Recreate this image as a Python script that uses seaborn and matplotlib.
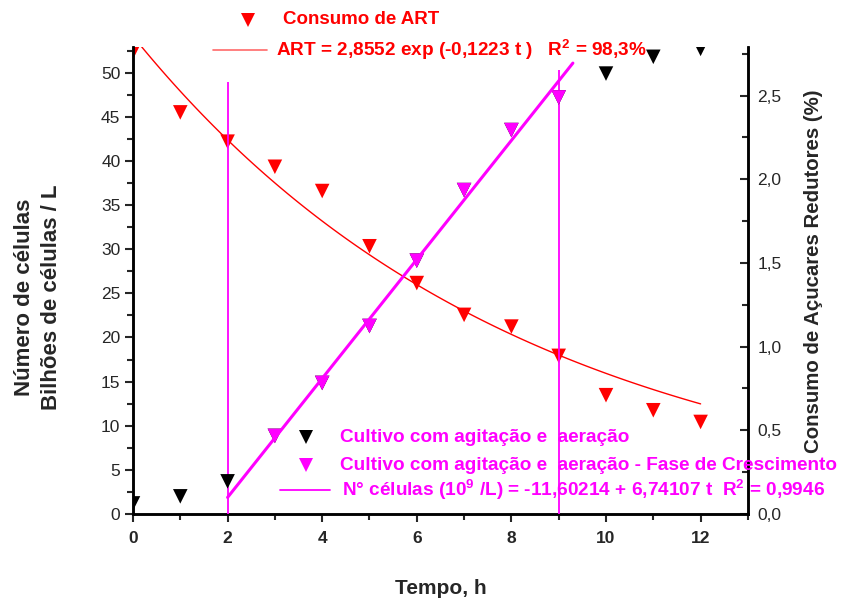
import numpy as np
import pandas as pd
import matplotlib
matplotlib.use("Agg")
import matplotlib.pyplot as plt
from matplotlib.lines import Line2D
from matplotlib.ticker import MultipleLocator, FuncFormatter
import seaborn as sns

# --- data -------------------------------------------------------------
tempo = [0, 1, 2, 3, 4, 5, 6, 7, 8, 9, 10, 11, 12]
celulas = [1.2, 2.0, 3.7, 8.85, 14.85, 21.3, 28.7, 36.7, 43.5, 47.2, 49.9, 51.8, 52.7]
tempo_cresc = [3, 4, 5, 6, 7, 8, 9]
celulas_cresc = [8.85, 14.85, 21.3, 28.7, 36.7, 43.5, 47.2]
art = [2.76, 2.40, 2.225, 2.075, 1.93, 1.60, 1.38, 1.19, 1.12, 0.945, 0.71, 0.62, 0.55]

# fitted models
art_a, art_k = 2.8552, -0.1223
lin_a, lin_b = -11.60214, 6.74107
fase_limites = [2, 9]
fase_topos = [48.9, 50.3]

sns.set_style("ticks")
plt.rcParams["font.family"] = ["Liberation Sans", "DejaVu Sans"]
plt.rcParams["mathtext.fontset"] = "custom"
plt.rcParams["mathtext.rm"] = "Liberation Sans:bold"
plt.rcParams["mathtext.bf"] = "Liberation Sans:bold"
plt.rcParams["mathtext.it"] = "Liberation Sans:bold"

RED = "#ff0000"
MAG = "#ff00ff"

fig = plt.figure(figsize=(8.47, 6.04), dpi=100)
ax = fig.add_axes([0.157, 0.149, 0.726, 0.773])
ax2 = ax.twinx()

# fitted curves
t_art = np.linspace(0, 12, 100)
fit_art = pd.DataFrame({"t": t_art, "y": art_a * np.exp(art_k * t_art)})
t_lin = np.linspace(2.0, 9.3, 20)
fit_lin = pd.DataFrame({"t": t_lin, "y": lin_a + lin_b * t_lin})

sns.lineplot(data=fit_art, x="t", y="y", ax=ax2, color=RED, lw=1.0)
sns.scatterplot(x=tempo, y=art, ax=ax2, marker="v", color=RED, s=110,
                edgecolor="none", linewidth=0, legend=False)

ax.vlines(fase_limites, 0, fase_topos, colors=MAG, lw=1.3, zorder=3)
sns.scatterplot(x=tempo, y=celulas, ax=ax, marker="v", color="black", s=110,
                edgecolor="none", linewidth=0, legend=False, zorder=4)
sns.scatterplot(x=tempo_cresc, y=celulas_cresc, ax=ax, marker="v", color=MAG,
                s=110, edgecolor="none", linewidth=0, legend=False, zorder=5)
sns.lineplot(data=fit_lin, x="t", y="y", ax=ax, color=MAG, lw=2.2, zorder=6)

ax.set_zorder(ax2.get_zorder() + 1)
ax.patch.set_visible(False)

# axes limits and ticks
ax.set_xlim(0, 13)
ax.set_ylim(0, 52.9)
ax2.set_ylim(0, 52.9 / 18.96)
ax.xaxis.set_major_locator(MultipleLocator(2))
ax.xaxis.set_minor_locator(MultipleLocator(1))
ax.yaxis.set_major_locator(MultipleLocator(5))
ax.yaxis.set_minor_locator(MultipleLocator(2.5))
ax2.yaxis.set_major_locator(MultipleLocator(0.5))
ax2.yaxis.set_minor_locator(MultipleLocator(0.25))
ax2.yaxis.set_major_formatter(FuncFormatter(lambda v, p: f"{v:.1f}".replace(".", ",")))

for a in (ax, ax2):
    for s in a.spines.values():
        s.set_linewidth(1.8)
        s.set_color("black")
    a.spines["top"].set_visible(False)

ax.tick_params(axis="x", which="major", direction="out", length=6, width=1.5,
               labelsize=12.5, pad=6)
ax.tick_params(axis="x", which="minor", direction="out", length=4, width=1.5)
ax.tick_params(axis="y", which="major", direction="out", length=6, width=1.5,
               labelsize=12.5, pad=3)
ax.tick_params(axis="y", which="minor", direction="out", length=4, width=1.5)
ax2.tick_params(axis="y", which="major", direction="in", length=6, width=1.5,
                labelsize=12.5, pad=7)
ax2.tick_params(axis="y", which="minor", direction="in", length=4, width=1.5)
for lbl in ax.get_xticklabels():
    lbl.set_fontweight("bold")
ax.set_xlabel("")
ax.set_ylabel("")
ax2.set_ylabel("")

W, H = 847.0, 604.0
def fx(px):
    return px / W
def fy(py):
    return 1 - py / H

# axis titles
fig.text(fx(441), fy(588), "Tempo, h", fontsize=15, fontweight="bold",
         ha="center", va="center")
fig.text(fx(38), fy(297), "Número de células\nBilhões de células / L",
         fontsize=16, fontweight="bold", rotation=90, ha="center",
         va="center", linespacing=1.35, multialignment="center")
fig.text(fx(813), fy(271), "Consumo de Açucares Redutores (%)", fontsize=14.7,
         fontweight="bold", rotation=90, ha="center", va="center")

# legend block: ART
fig.add_artist(Line2D([fx(248)], [fy(20)], marker="v", color=RED, ms=10.5,
                      markeredgewidth=0, transform=fig.transFigure))
fig.text(fx(283), fy(20), "Consumo de ART", color=RED, fontsize=13.5,
         fontweight="bold", va="center", ha="left")
fig.add_artist(Line2D([fx(213), fx(267)], [fy(50), fy(50)], color="#ff6a6a",
                      lw=1.2, transform=fig.transFigure))
fig.text(fx(276), fy(50), "ART = 2,8552 exp (-0,1223 t )   R$^{2}$ = 98,3%",
         color=RED, fontsize=13.7, fontweight="bold", va="center", ha="left")

# legend block: cells
fig.add_artist(Line2D([fx(306)], [fy(437)], marker="v", color="black", ms=10.5,
                      markeredgewidth=0, transform=fig.transFigure))
fig.text(fx(340), fy(437), "Cultivo com agitação e  aeração", color=MAG,
         fontsize=13.7, fontweight="bold", va="center", ha="left")
fig.add_artist(Line2D([fx(306)], [fy(465)], marker="v", color=MAG, ms=10.5,
                      markeredgewidth=0, transform=fig.transFigure))
fig.text(fx(340), fy(465), "Cultivo com agitação e  aeração - Fase de Crescimento",
         color=MAG, fontsize=13.7, fontweight="bold", va="center", ha="left")
fig.add_artist(Line2D([fx(280), fx(330)], [fy(490), fy(490)], color=MAG,
                      lw=1.3, transform=fig.transFigure))
fig.text(fx(342), fy(490),
         "N° células (10$^{9}$ /L) = -11,60214 + 6,74107 t  R$^{2}$ = 0,9946",
         color=MAG, fontsize=13.7, fontweight="bold", va="center", ha="left")

fig.savefig("out.png", dpi=100)
